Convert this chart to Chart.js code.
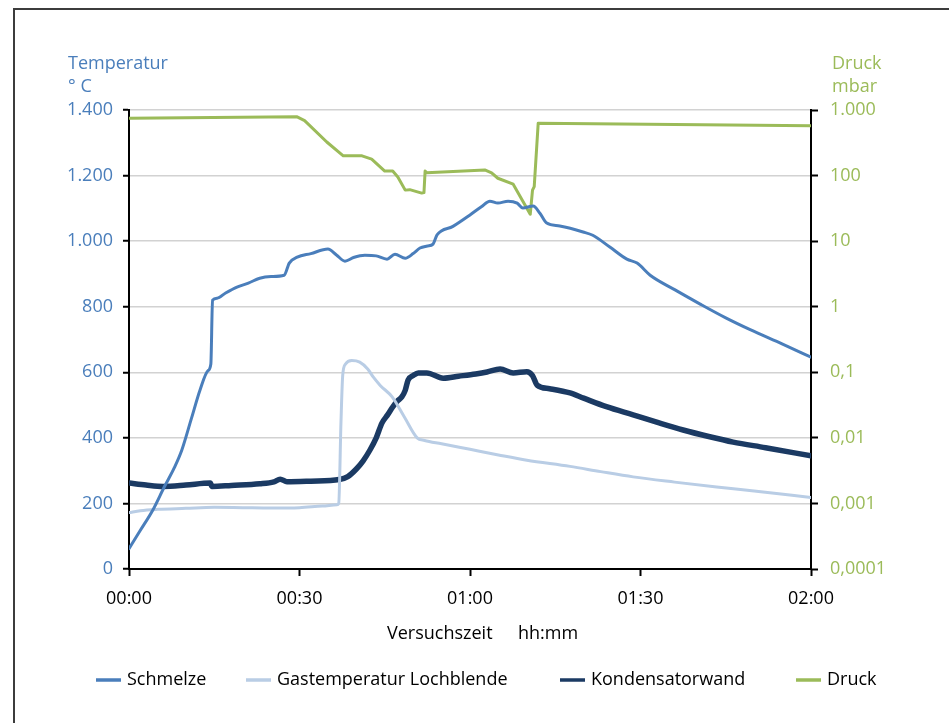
<!DOCTYPE html>
<html>
<head>
<meta charset="utf-8">
<script src="https://cdn.jsdelivr.net/npm/chart.js@4.4.1/dist/chart.umd.min.js"></script>
<style>
  html, body { margin: 0; padding: 0; background: #ffffff; }
  canvas { display: block; }
</style>
</head>
<body>
<canvas id="chart" width="949" height="723"></canvas>
<script>
// Versuchszeit in Minuten, Temperaturen in °C, Druck in mbar
const schmelzeMin  = [0, 2, 4.2, 6.2, 8, 9.3, 11, 12.5, 13.9, 14.4, 14.7, 15.5, 17, 19, 21, 23, 25, 27.3, 28.2, 29.6, 32, 35, 36.5, 38, 39.5, 41.5, 43.5, 45.4, 46.8, 48.6, 50, 51.2, 52.5, 53.5, 54.2, 57, 60, 62, 63.5, 64.9, 66.7, 68.3, 69.3, 71.1, 72.3, 73.5, 75.8, 79.9, 81.6, 84.6, 87.6, 89.4, 91.7, 96, 100.5, 105, 109.3, 115, 120];
const schmelzeTemp = [62, 118, 180, 250, 310, 363, 460, 546, 605, 625, 820, 826, 842, 860, 872, 887, 892, 896, 933, 951, 962, 976, 958, 939, 950, 957, 955, 945, 960, 948, 962, 979, 985, 991, 1019, 1045, 1080, 1105, 1122, 1116, 1122, 1116, 1101, 1107, 1085, 1055, 1046, 1028, 1018, 982, 945, 933, 896, 852, 808, 766, 730, 686, 646];

const gasMin  = [0, 2, 5, 10, 15, 20, 25, 30, 34, 36.6, 36.9, 37.3, 37.6, 38.1, 39.2, 40.6, 42, 43, 44.2, 46.3, 48.5, 50.7, 52, 55, 60, 65, 70, 77.6, 83, 88.7, 96, 103.4, 110, 120];
const gasTemp = [172, 178, 182, 185, 188, 187, 186, 187, 192, 196, 200, 450, 590, 625, 636, 631, 610, 585, 560, 525, 462, 400, 392, 382, 365, 348, 332, 313, 297, 281, 265, 250, 238, 218];

const kondMin  = [0, 3, 6, 10, 14.3, 14.6, 18, 23, 25.5, 26.6, 27.8, 32, 37, 38.5, 40, 41.2, 42.4, 43.5, 44.5, 45.5, 46.4, 47.2, 48.0, 48.6, 49.1, 50, 50.9, 52.4, 55.3, 58, 61, 63, 65.3, 67.6, 70, 71, 71.8, 74, 77.6, 80, 84, 88.7, 93, 97.5, 102, 106.3, 112, 120];
const kondTemp = [262, 256, 252, 256, 262, 252, 255, 260, 266, 274, 266, 268, 273, 282, 305, 330, 363, 400, 445, 470, 494, 512, 525, 545, 576, 590, 598, 598, 582, 588, 595, 601, 610, 598, 602, 590, 561, 550, 537, 521, 495, 470, 447, 424, 404, 387, 370, 345];

const druckMin  = [0, 29.5, 30.9, 34.8, 37.7, 41.0, 42.7, 45.0, 46.4, 47.3, 48.6, 49.4, 51.5, 51.9, 52.1, 52.4, 62.6, 63.8, 64.9, 67.6, 70.6, 71.0, 71.3, 72.0, 120];
const druckMbar = [750, 790, 690, 325, 200, 200, 178, 117, 117, 95, 60, 61, 54, 55, 117, 110, 122, 110, 91, 74, 25.7, 60, 68, 630, 575];

const timeTicks     = [0, 30, 60, 90, 120];
const tempTicks     = [0, 200, 400, 600, 800, 1000, 1200, 1400];
const pressureTicks = [0.0001, 0.001, 0.01, 0.1, 1, 10, 100, 1000];

const seriesNames = ['Schmelze', 'Gastemperatur Lochblende', 'Kondensatorwand', 'Druck'];

const FONT = "'Open Sans', 'Noto Sans', sans-serif";
const FS = 18;
const C_SCHMELZE = '#4a7ebb';
const C_GAS = '#b9cde5';
const C_KOND = '#1b3a63';
const C_DRUCK = '#9bbb59';

function points(xs, ys) { return xs.map((x, i) => ({ x: x, y: ys[i] })); }

// deutsche Zahlendarstellung: Tausenderpunkt, Dezimalkomma
function deNumber(v) {
  if (v >= 1) {
    return String(Math.round(v)).replace(/\B(?=(\d{3})+(?!\d))/g, '.');
  }
  return String(v).replace('.', ',');
}
function hhmm(m) {
  const h = Math.floor(m / 60), mm = Math.round(m % 60);
  return String(h).padStart(2, '0') + ':' + String(mm).padStart(2, '0');
}

// Rahmen links und oben
const framePlugin = {
  id: 'frame',
  beforeDraw(chart) {
    const ctx = chart.ctx;
    ctx.save();
    ctx.strokeStyle = '#3c3c3c';
    ctx.lineWidth = 2;
    ctx.beginPath();
    ctx.moveTo(14, 723);
    ctx.lineTo(14, 9);
    ctx.lineTo(949, 9);
    ctx.stroke();
    ctx.restore();
  }
};

// Achsentitel und Legende
const labelsPlugin = {
  id: 'labels',
  afterDraw(chart) {
    const ctx = chart.ctx;
    const area = chart.chartArea;
    ctx.save();
    ctx.font = FS + 'px ' + FONT;
    ctx.textBaseline = 'alphabetic';
    ctx.textAlign = 'left';

    ctx.fillStyle = C_SCHMELZE;
    ctx.fillText('Temperatur', area.left - 61, area.top - 41);
    ctx.fillText('° C', area.left - 61, area.top - 18);

    ctx.fillStyle = C_DRUCK;
    ctx.fillText('Druck', area.right + 21, area.top - 41);
    ctx.fillText('mbar', area.right + 21, area.top - 18);

    ctx.fillStyle = '#000000';
    ctx.fillText('Versuchszeit', area.left + 258, area.bottom + 70);
    ctx.fillText('hh:mm', area.left + 389, area.bottom + 70);

    // Legende
    const starts = [96, 246, 560, 796];
    chart.data.datasets.forEach((ds, i) => {
      const x = starts[i];
      ctx.strokeStyle = ds.borderColor;
      ctx.lineWidth = 3.5;
      ctx.beginPath();
      ctx.moveTo(x, 680);
      ctx.lineTo(x + 25, 680);
      ctx.stroke();
      ctx.fillStyle = '#000000';
      ctx.fillText(ds.label, x + 31, 685);
    });
    ctx.restore();
  }
};

const fixedTicks = (values) => (scale) => {
  scale.ticks = values.map(v => ({ value: v }));
};

new Chart(document.getElementById('chart').getContext('2d'), {
  type: 'line',
  data: {
    datasets: [
      {
        label: seriesNames[0],
        data: points(schmelzeMin, schmelzeTemp),
        borderColor: C_SCHMELZE,
        borderWidth: 3,
        cubicInterpolationMode: 'monotone',
        yAxisID: 'y'
      },
      {
        label: seriesNames[1],
        data: points(gasMin, gasTemp),
        borderColor: C_GAS,
        borderWidth: 3,
        cubicInterpolationMode: 'monotone',
        yAxisID: 'y'
      },
      {
        label: seriesNames[2],
        data: points(kondMin, kondTemp),
        borderColor: C_KOND,
        borderWidth: 5.5,
        cubicInterpolationMode: 'monotone',
        yAxisID: 'y'
      },
      {
        label: seriesNames[3],
        data: points(druckMin, druckMbar),
        borderColor: C_DRUCK,
        borderWidth: 3,
        tension: 0,
        yAxisID: 'y2'
      }
    ]
  },
  options: {
    responsive: false,
    animation: false,
    layout: { padding: { top: 110, left: 0, right: 0, bottom: 0 } },
    elements: { point: { radius: 0 }, line: { borderJoinStyle: 'round', borderCapStyle: 'round' } },
    plugins: { legend: { display: false }, tooltip: { enabled: false } },
    scales: {
      x: {
        type: 'linear',
        min: 0,
        max: 120,
        afterBuildTicks: fixedTicks(timeTicks),
        afterFit: (s) => { s.height = 154; },
        ticks: {
          callback: (v) => hhmm(v),
          color: '#000000',
          font: { family: FONT, size: FS },
          padding: 12,
          maxRotation: 0,
          autoSkip: false
        },
        grid: { drawOnChartArea: false, drawTicks: true, tickLength: 7, tickWidth: 2, tickColor: '#000000' },
        border: { display: true, color: '#000000', width: 2 }
      },
      y: {
        type: 'linear',
        position: 'left',
        min: 0,
        max: 1400,
        afterBuildTicks: fixedTicks(tempTicks),
        afterFit: (s) => { s.width = 129; },
        ticks: {
          callback: (v) => deNumber(v),
          color: C_SCHMELZE,
          font: { family: FONT, size: FS },
          padding: 10
        },
        grid: { color: '#d2d2d2', lineWidth: 1.5, tickLength: 6, tickWidth: 2, tickColor: '#000000' },
        border: { display: true, color: '#000000', width: 2 }
      },
      y2: {
        type: 'logarithmic',
        position: 'right',
        min: 0.0001,
        max: 1000,
        afterBuildTicks: fixedTicks(pressureTicks),
        afterFit: (s) => { s.width = 138; },
        ticks: {
          callback: (v) => deNumber(v),
          color: C_DRUCK,
          font: { family: FONT, size: FS },
          padding: 12
        },
        grid: { drawOnChartArea: false, tickLength: 7, tickWidth: 2, tickColor: '#000000' },
        border: { display: true, color: '#000000', width: 2 }
      }
    }
  },
  plugins: [framePlugin, labelsPlugin]
});
</script>
</body>
</html>
